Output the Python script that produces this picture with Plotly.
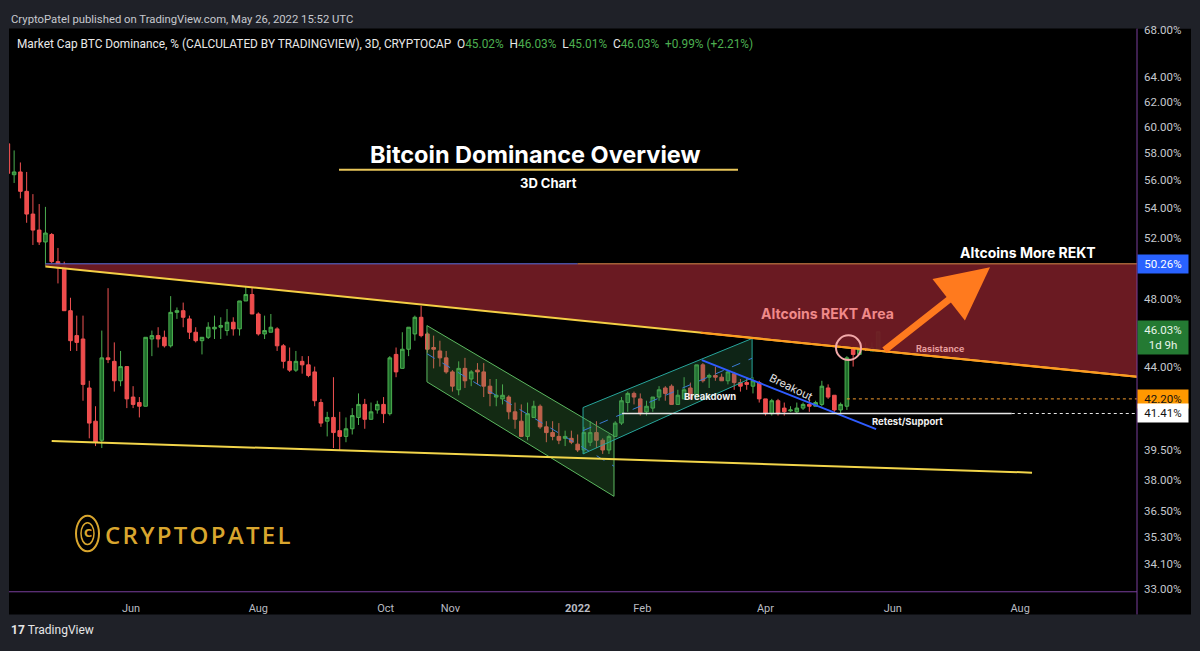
import numpy as np
import pandas as pd
import plotly.graph_objects as go

W, H = 1200, 651

# ---------------- candle data (3D candles, BTC dominance %) ----------------
last_candle = "2022-05-25"
opens = [58.7, 56.4, 56.6, 55.2, 53.6, 52.5, 51.7, 52.2, 50.4, 50.1,
         47.3, 45.8, 45.6, 42.8, 41.0, 40.0, 44.5, 44.3, 43.2, 44.0,
         42.3, 42.0, 41.8, 45.6, 45.8, 45.7, 45.2, 47.2, 47.3, 46.8,
         46.0, 45.5, 45.7, 46.2, 46.3, 46.1, 46.6, 46.2, 47.9, 48.3,
         47.1, 45.9, 46.0, 46.2, 45.2, 44.3, 43.8, 44.3, 44.1, 43.7,
         42.0, 41.0, 41.2, 40.5, 40.2, 40.6, 41.2, 41.9, 41.1, 41.6,
         41.9, 41.4, 44.7, 43.9, 45.0, 45.9, 46.9, 45.9, 45.1, 44.9,
         44.5, 43.7, 42.7, 43.9, 43.3, 43.8, 43.7, 42.9, 42.3, 42.2,
         42.3, 41.5, 41.0, 40.2, 41.2, 41.8, 40.7, 40.4, 40.2, 40.1,
         40.1, 39.8, 39.5, 39.9, 40.4, 40.0, 39.5, 40.2, 40.9, 42.0,
         42.5, 42.2, 41.5, 41.7, 42.3, 42.8, 42.9, 41.9, 42.2, 42.8,
         42.3, 44.1, 43.4, 43.5, 43.4, 43.2, 43.6, 43.1, 43.1, 42.9,
         43.1, 42.2, 41.4, 42.1, 41.7, 41.55, 41.5, 41.7, 41.9, 41.8,
         41.9, 42.8, 42.4, 41.6, 41.8, 45.1, 44.7, 45.1, 44.9, 45.02]
highs = [58.9, 58.2, 57.3, 56.6, 55.0, 54.3, 54.1, 52.3, 51.3, 50.4,
         48.1, 47.0, 47.0, 43.2, 41.8, 46.1, 48.7, 45.4, 44.9, 44.0,
         42.9, 42.3, 45.7, 46.1, 46.3, 46.1, 48.2, 47.5, 47.8, 47.0,
         46.3, 45.7, 46.6, 47.0, 46.9, 47.4, 46.9, 47.9, 49.0, 48.8,
         47.2, 47.0, 47.1, 46.3, 45.3, 45.1, 44.9, 44.6, 44.6, 44.0,
         42.2, 41.5, 43.4, 41.5, 41.2, 41.7, 42.5, 42.2, 42.0, 42.1,
         42.3, 44.6, 45.1, 46.0, 46.3, 47.0, 47.6, 46.0, 45.8, 45.5,
         44.9, 43.8, 44.3, 44.5, 43.8, 44.2, 44.2, 43.3, 43.3, 43.0,
         42.4, 42.0, 41.9, 42.0, 42.1, 41.9, 41.0, 41.0, 40.9, 40.5,
         40.5, 40.3, 40.7, 41.0, 41.0, 40.1, 40.3, 41.0, 42.3, 42.6,
         42.6, 42.5, 42.1, 42.3, 42.9, 42.9, 43.0, 42.7, 43.4, 43.1,
         44.1, 44.2, 43.6, 44.0, 43.6, 43.8, 43.7, 43.3, 43.4, 43.4,
         43.2, 42.2, 42.2, 42.2, 42.0, 41.8, 42.0, 42.0, 42.1, 42.1,
         43.2, 43.0, 42.4, 42.0, 44.6, 45.2, 45.2, 45.4, 45.4, 46.03]
lows = [56.3, 55.8, 54.7, 53.0, 51.5, 51.5, 50.1, 50.3, 49.0, 47.3,
        44.9, 44.9, 42.1, 40.1, 39.7, 39.6, 44.2, 42.6, 42.9, 41.7,
        41.7, 41.2, 41.8, 44.6, 45.1, 45.1, 45.1, 46.8, 46.3, 45.6,
        45.4, 44.7, 45.6, 45.6, 45.6, 45.8, 45.8, 45.8, 47.9, 47.1,
        45.8, 45.6, 46.0, 44.9, 43.9, 43.7, 43.7, 43.6, 43.4, 41.8,
        40.7, 40.2, 39.6, 39.5, 39.9, 40.3, 40.8, 40.6, 41.1, 41.4,
        40.9, 41.3, 43.4, 43.9, 44.6, 45.5, 45.7, 44.8, 43.9, 44.0,
        43.6, 42.6, 42.4, 42.8, 42.9, 43.0, 42.3, 41.8, 41.8, 41.9,
        41.1, 40.6, 40.2, 40.0, 41.2, 40.6, 39.9, 40.0, 39.8, 39.7,
        39.8, 39.4, 39.3, 39.7, 39.6, 39.3, 39.3, 40.2, 40.8, 41.5,
        41.9, 41.3, 41.3, 41.5, 42.1, 42.1, 41.9, 41.9, 42.2, 42.2,
        42.3, 43.1, 42.8, 43.2, 43.2, 43.0, 42.7, 42.6, 42.7, 42.5,
        42.0, 41.3, 41.3, 41.3, 41.3, 41.5, 41.4, 41.6, 41.5, 41.8,
        41.8, 42.2, 41.5, 41.3, 41.6, 44.0, 44.7, 44.9, 44.9, 45.01]
closes = [56.5, 56.6, 55.2, 53.6, 52.5, 51.7, 52.3, 50.4, 50.0, 47.3,
          45.5, 45.4, 43.0, 40.9, 39.9, 44.5, 44.4, 43.2, 44.0, 42.2,
          41.9, 41.8, 45.7, 45.8, 45.6, 45.2, 47.2, 47.3, 46.9, 46.0,
          45.5, 45.7, 46.3, 46.3, 46.4, 46.6, 46.2, 47.9, 48.3, 47.1,
          45.9, 46.1, 46.3, 45.2, 44.3, 43.8, 44.3, 44.1, 43.5, 42.1,
          40.9, 41.2, 40.4, 40.2, 40.6, 41.3, 41.9, 41.1, 41.5, 41.9,
          41.4, 44.5, 43.7, 45.0, 46.3, 46.9, 45.8, 45.0, 45.0, 44.5,
          43.7, 42.9, 43.9, 43.2, 43.7, 43.7, 42.9, 42.5, 42.4, 42.4,
          41.5, 41.1, 40.2, 41.4, 41.8, 40.7, 40.4, 40.2, 40.0, 40.2,
          39.9, 39.5, 40.4, 40.4, 40.0, 39.5, 40.2, 40.9, 42.1, 42.5,
          42.3, 41.4, 41.8, 42.3, 42.7, 42.5, 41.9, 42.4, 42.7, 42.2,
          44.1, 43.2, 43.5, 43.4, 43.2, 43.7, 43.1, 42.9, 43.0, 43.2,
          42.2, 41.4, 42.1, 41.4, 41.5, 41.6, 41.7, 41.9, 41.8, 42.0,
          42.9, 42.3, 41.6, 41.9, 44.5, 44.7, 45.0, 45.0, 45.1, 46.03]
dates = pd.date_range(end=last_candle, periods=len(opens), freq="3D")

# ---------------- axes ----------------
x_range = ["2021-04-03 13:00", "2022-09-26"]
y_range_pct = [32.88, 68.13]
x_tick_dates = ["2021-06-01", "2021-08-01", "2021-10-01", "2021-11-01", "2022-01-01",
                "2022-02-01", "2022-04-01", "2022-06-01", "2022-08-01"]
x_tick_labels = ["Jun", "Aug", "Oct", "Nov", "<b>2022</b>", "Feb", "Apr", "Jun", "Aug"]
y_tick_vals = [68, 64, 62, 60, 58, 56, 54, 52, 48, 44, 39.5, 38, 36.5, 35.3, 34.1, 33]
y_tick_labels = ["%.2f%%" % v for v in y_tick_vals]

# ---------------- drawings (date, price) ----------------
zone_x = ["2021-04-21", "2022-09-26", "2022-09-26", "2021-04-21"]
zone_y = [50.26, 50.26, 43.42, 50.09]
resist_x = ["2021-04-21", "2022-09-26"]
resist_y = [50.09, 43.42]
resist_orange_x = ["2022-03-01", "2022-09-26"]
resist_orange_y = [45.97, 43.42]
top_line_blue_x = ["2021-04-21", "2022-01-01"]
top_line_orange_x = ["2022-01-01", "2022-09-26"]
support_x = ["2021-04-24", "2022-08-06 17:00"]
support_y = [39.96, 38.36]
down_ch_x = ["2021-10-20 19:00", "2022-01-18 10:00", "2022-01-18 10:00", "2021-10-20 19:00", "2021-10-20 19:00"]
down_ch_y = [46.40, 40.22, 37.20, 43.14, 46.40]
down_mid_x = ["2021-10-20 19:00", "2022-01-18 10:00"]
down_mid_y = [44.74, 38.68]
up_ch_x = ["2022-01-03 14:00", "2022-03-25 14:00", "2022-03-25 14:00", "2022-01-03 14:00", "2022-01-03 14:00"]
up_ch_y = [41.73, 45.63, 43.37, 39.30, 41.73]
up_mid_x = ["2022-01-03 14:00", "2022-03-25 14:00"]
up_mid_y = [40.50, 44.48]
breakout_x = ["2022-03-01 12:00", "2022-05-24"]
breakout_y = [44.37, 40.58]
retest_solid_x = ["2022-01-22 07:00", "2022-07-28"]
retest_dot_x = ["2022-07-28", "2022-09-26"]
retest_level = 41.41
orange_dot_x = ["2022-05-10", "2022-09-26"]
orange_level = 42.20
blue_level = 50.26
last_price = 46.03


def px(x):
    return x / W


def py(y):
    return 1 - y / H


fig = go.Figure()


def line(xs, ys, color, width=1.5, dash="solid"):
    fig.add_trace(go.Scatter(x=xs, y=ys, mode="lines", hoverinfo="skip",
                             line=dict(color=color, width=width, dash=dash)))


# red zone
fig.add_trace(go.Scatter(x=zone_x, y=zone_y, fill="toself", mode="lines",
                         fillcolor="rgba(112,27,36,0.95)", line=dict(width=0), hoverinfo="skip"))
# channels
fig.add_trace(go.Scatter(x=down_ch_x, y=down_ch_y, fill="toself", mode="lines",
                         fillcolor="rgba(70,150,70,0.28)", line=dict(color="#5cb860", width=1),
                         hoverinfo="skip"))
fig.add_trace(go.Scatter(x=up_ch_x, y=up_ch_y, fill="toself", mode="lines",
                         fillcolor="rgba(50,130,80,0.28)", line=dict(color="#27a59b", width=1),
                         hoverinfo="skip"))
line(down_mid_x, down_mid_y, "#3a7bd5", 1, "dash")
line(up_mid_x, up_mid_y, "#3a7bd5", 1, "dash")

# support line
line(support_x, support_y, "#f2d54a", 2)

# candles
fig.add_trace(go.Candlestick(
    x=dates, open=opens, high=highs, low=lows, close=closes,
    increasing=dict(line=dict(color="#4caf50", width=1), fillcolor="#1f6e2b"),
    decreasing=dict(line=dict(color="#f05252", width=1), fillcolor="#ef4b4b"),
    whiskerwidth=0, hoverinfo="skip"))

# lines above candles
line(top_line_blue_x, [blue_level] * 2, "#5c6fe0", 1)
line(top_line_orange_x, [blue_level] * 2, "#d98a4a", 1)
line(resist_x, resist_y, "#f5cf45", 2)
line(resist_orange_x, resist_orange_y, "#ff9a1f", 2)
line(breakout_x, breakout_y, "#2f5cff", 2)
line(retest_solid_x, [retest_level] * 2, "#e6e6e6", 1.5)
line(retest_dot_x, [retest_level] * 2, "#e6e6e6", 1.2, "dot")
line(orange_dot_x, [orange_level] * 2, "#f29a2e", 1, "dot")

shapes = [
    # black panel
    dict(type="rect", xref="paper", yref="paper", x0=px(9), x1=px(1191), y0=py(618), y1=py(24),
         fillcolor="#000000", line=dict(width=0), layer="below"),
    # purple separators
    dict(type="line", xref="paper", yref="paper", x0=px(1137), x1=px(1137), y0=py(618), y1=py(24),
         line=dict(color="#7a3f9d", width=1)),
    dict(type="line", xref="paper", yref="paper", x0=px(9), x1=px(1137), y0=py(595), y1=py(595),
         line=dict(color="#7a3f9d", width=1)),
    # title underline
    dict(type="line", xref="paper", yref="paper", x0=px(339), x1=px(738), y0=py(167), y1=py(167),
         line=dict(color="#e8c65a", width=2)),
    # ellipse
    dict(type="circle", xref="paper", yref="paper", x0=px(836), x1=px(861), y0=py(360), y1=py(335),
         line=dict(color="#f2a9a9", width=2)),
    # logo icon
    dict(type="circle", xref="paper", yref="paper", x0=px(76), x1=px(99), y0=py(554), y1=py(518),
         line=dict(color="#d9a62e", width=2)),
    dict(type="circle", xref="paper", yref="paper", x0=px(81), x1=px(94), y0=py(547), y1=py(525),
         line=dict(color="#d9a62e", width=1.5)),
]

annotations = []


def text(t, x, y, size, color, family="Inter", xanchor="center", bold=False, weight=None, **kw):
    if bold:
        t = "<b>" + t + "</b>"
    font = dict(size=size, color=color, family=family)
    if weight is not None:
        font["weight"] = weight
    annotations.append(dict(text=t, x=px(x), y=py(y), xref="paper", yref="paper",
                            xanchor=xanchor, yanchor="middle", showarrow=False,
                            font=font, **kw))


NB = "\u00a0"
g = '<span style="color:#4caf50">%s</span>'
text("CryptoPatel published on TradingView.com, May 26, 2022 15:52 UTC", 9, 15, 11.3, "#c7c9cf",
     family="Roboto", xanchor="left")
text("Market Cap BTC Dominance, % (CALCULATED BY TRADINGVIEW), 3D, CRYPTOCAP" + NB * 2 +
     "O" + g % "45.02%" + NB * 2 + "H" + g % "46.03%" + NB * 2 + "L" + g % "45.01%" + NB * 2 +
     "C" + g % "46.03%" + NB * 2 + g % ("+0.99%" + NB + "(+2.21%)"),
     15, 40, 11.85, "#e8e8e8", family="Roboto", xanchor="left")
text("Bitcoin Dominance Overview", 535, 152, 23.5, "#ffffff", bold=True)
text("3D Chart", 548, 180, 13, "#ffffff", bold=True)
text("Altcoins REKT Area", 827, 313, 14, "#f08a8a", bold=True)
text("Altcoins More REKT", 1028, 251, 14, "#ffffff", bold=True)
text("Rasistance", 940, 348, 9, "#e59c9c", bold=True)
text("Retest/Support", 907, 422, 9.5, "#f0f0f0", bold=True)
text("Breakdown", 710, 397, 9.5, "#f0f0f0", bold=True)
text("Breakout", 791, 387, 11, "#e6e6e6", textangle=26)
text('<span style="letter-spacing:2.3px">CRYPTOPATEL</span>', 199, 537, 24, "#d9a62e",
     family="Open Sans", weight=600)
text("C", 87.5, 536, 11, "#d9a62e", family="DejaVu Sans", bold=True)
text("<b>17</b>" + NB + "TradingView", 9, 634, 12, "#e6e6e6", family="Roboto", xanchor="left")

# orange arrow
annotations.append(dict(x=px(990), y=py(266), xref="paper", yref="paper", ax=-107, ay=84,
                        axref="pixel", ayref="pixel", showarrow=True, arrowhead=2, arrowsize=1.5,
                        arrowwidth=7, arrowcolor="#ff7a1e", text=""))


# price boxes on the right axis (tied to the log axis)
def price_box(val, label, bg, fg, yshift=0):
    annotations.append(dict(text=label, x=px(1137), y=np.log10(val), xref="paper", yref="y",
                            xanchor="left", yanchor="middle", showarrow=False, bgcolor=bg,
                            width=46, borderpad=2, align="center", yshift=yshift,
                            font=dict(size=11.5, color=fg, family="Roboto")))


price_box(blue_level, "%.2f%%" % blue_level, "#2962ff", "#ffffff")
price_box(last_price, "%.2f%%<br>1d 9h" % last_price, "#247a33", "#e8f5e9", yshift=-6)
price_box(orange_level, "%.2f%%" % orange_level, "#ff9800", "#111111")
price_box(retest_level, "%.2f%%" % retest_level, "#ffffff", "#111111")

fig.update_layout(
    width=W, height=H, autosize=False,
    margin=dict(l=0, r=0, t=0, b=0),
    paper_bgcolor="#1f2128", plot_bgcolor="#000000",
    showlegend=False, hovermode=False, boxgap=0.18,
    shapes=shapes, annotations=annotations,
    xaxis=dict(type="date", domain=[px(9), px(1137)], range=x_range,
               tickvals=x_tick_dates, ticktext=x_tick_labels, showgrid=False, zeroline=False,
               showline=False, ticks="", rangeslider=dict(visible=False), ticklabelstandoff=8,
               tickfont=dict(size=11, color="#b8bbc2", family="Roboto")),
    yaxis=dict(type="log", side="right", domain=[py(595), py(24)],
               range=[np.log10(y_range_pct[0]), np.log10(y_range_pct[1])],
               tickvals=y_tick_vals, ticktext=y_tick_labels, showgrid=False, zeroline=False,
               showline=False, ticks="", ticklabelstandoff=6,
               tickfont=dict(size=11.5, color="#c6c9cf", family="Roboto")),
)

fig.write_html("out.html", config={"displayModeBar": False},
               post_script="document.body.style.margin='0';document.body.style.padding='0';"
                           "document.body.style.overflow='hidden';document.body.style.background='#1f2128';")
